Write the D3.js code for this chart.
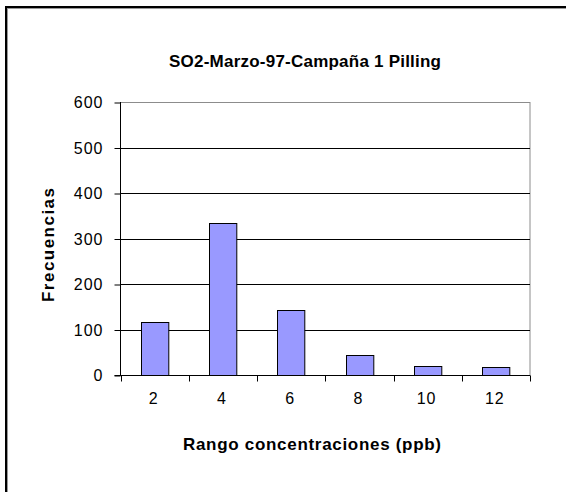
<!DOCTYPE html>
<html>
<head>
<meta charset="utf-8">
<script src="https://cdn.jsdelivr.net/npm/d3@7/dist/d3.min.js"></script>
<style>
  html, body { margin: 0; padding: 0; background: #fff; }
  svg { display: block; }
  text { font-family: Arial, "Liberation Sans", sans-serif; fill: #000; }
</style>
</head>
<body>
<svg id="chart" width="566" height="492"></svg>
<script>
const categories = ["2", "4", "6", "8", "10", "12"];
const frecuencias = [116, 333, 142, 45, 20, 17];
const yTicks = [0, 100, 200, 300, 400, 500, 600];
const titleText = "SO2-Marzo-97-Campaña 1 Pilling";
const xTitle = "Rango concentraciones (ppb)";
const yTitle = "Frecuencias";

(function () {
const svg = d3.select("#chart");
const W = 566, H = 492;
svg.append("rect").attr("width", W).attr("height", H).attr("fill", "#fff");

// outer chart border (left & top visible)
svg.append("line").attr("x1", 6).attr("y1", 7).attr("x2", 6).attr("y2", H).attr("stroke", "#000").attr("stroke-width", 2);
svg.append("line").attr("x1", 5).attr("y1", 7).attr("x2", W).attr("y2", 7).attr("stroke", "#000").attr("stroke-width", 2);
svg.append("line").attr("x1", 7.5).attr("y1", 8).attr("x2", 7.5).attr("y2", H).attr("stroke", "#999").attr("stroke-width", 1);
svg.append("line").attr("x1", 7).attr("y1", 8.5).attr("x2", W).attr("y2", 8.5).attr("stroke", "#999").attr("stroke-width", 1);

const pLeft = 120.5, pRight = 530, pTop = 102, pBottom = 375;

const x = d3.scaleBand().domain(categories).range([pLeft, pRight]).paddingInner(0.6).paddingOuter(0.3);
const xTickScale = d3.scaleLinear().domain([0, categories.length]).range([pLeft, pRight]);
const y = d3.scaleLinear().domain([0, 600]).range([pBottom, pTop]);

// plot area border (top/right grey)
svg.append("rect")
  .attr("x", pLeft).attr("y", pTop + 0.5)
  .attr("width", pRight - pLeft).attr("height", pBottom - pTop)
  .attr("fill", "none").attr("stroke", "#8c8c8c").attr("stroke-width", 1);

// gridlines
svg.append("g").selectAll("line").data(yTicks.filter(d => d > 0 && d < 600)).join("line")
  .attr("x1", pLeft).attr("x2", pRight)
  .attr("y1", d => Math.round(y(d)) + 0.5).attr("y2", d => Math.round(y(d)) + 0.5)
  .attr("stroke", "#000").attr("stroke-width", 1);

// bars
svg.append("g").selectAll("rect").data(frecuencias).join("rect")
  .attr("x", (d, i) => Math.round(x(categories[i])) + 0.5)
  .attr("y", d => Math.round(y(d)) + 0.5)
  .attr("width", x.bandwidth())
  .attr("height", d => Math.round(y(0)) - Math.round(y(d)))
  .attr("fill", "#9999FF").attr("stroke", "#000").attr("stroke-width", 1);

// y axis
const yAxis = d3.axisLeft(y).tickValues(yTicks).tickSize(6).tickPadding(11).tickFormat(d3.format("d"));
const gy = svg.append("g").attr("transform", `translate(${pLeft},0.5)`).call(yAxis);
gy.select(".domain").remove();
gy.append("line").attr("x1", 0).attr("x2", 0).attr("y1", pTop - 0.5).attr("y2", pBottom).attr("stroke", "#000");
gy.selectAll(".tick line").attr("stroke", "#000");
gy.selectAll(".tick text").style("font-size", "16px").style("letter-spacing", "1px")
  .style("font-family", "Arial, 'Liberation Sans', sans-serif").attr("fill", "#000");

// x axis
const gx = svg.append("g").attr("transform", `translate(0,${pBottom + 0.5})`);
gx.append("line").attr("x1", pLeft - 6).attr("x2", pRight).attr("y1", 0).attr("y2", 0).attr("stroke", "#000");
gx.selectAll("line.t").data(d3.range(categories.length + 1)).join("line").attr("class", "t")
  .attr("x1", d => Math.round(xTickScale(d)) + 0.5).attr("x2", d => Math.round(xTickScale(d)) + 0.5)
  .attr("y1", 0).attr("y2", 6).attr("stroke", "#000");
gx.selectAll("text").data(categories).join("text")
  .attr("x", d => x(d) + x.bandwidth() / 2 - 1)
  .attr("y", 28)
  .attr("text-anchor", "middle")
  .style("font-size", "16px").style("letter-spacing", "1px")
  .text(d => d);

// titles
svg.append("text").attr("x", 305).attr("y", 67).attr("text-anchor", "middle")
  .attr("textLength", 272).attr("lengthAdjust", "spacing")
  .style("font-size", "17px").style("font-weight", "bold").text(titleText);
svg.append("text").attr("x", 312).attr("y", 450).attr("text-anchor", "middle")
  .attr("textLength", 258).attr("lengthAdjust", "spacing")
  .style("font-size", "17px").style("font-weight", "bold").text(xTitle);
svg.append("text").attr("transform", "translate(54,245) rotate(-90)").attr("text-anchor", "middle")
  .attr("textLength", 114).attr("lengthAdjust", "spacing")
  .style("font-size", "17px").style("font-weight", "bold").text(yTitle);
})();
</script>
</body>
</html>
